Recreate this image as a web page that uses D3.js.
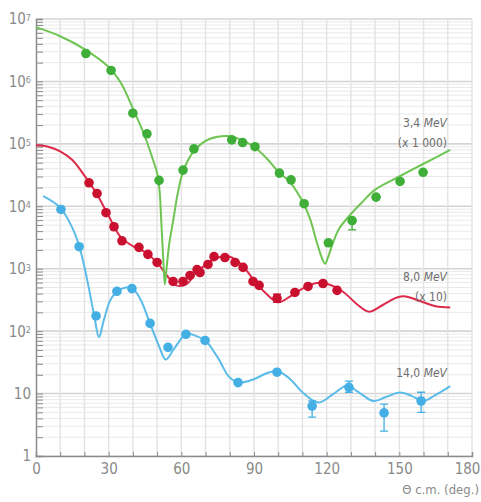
<!DOCTYPE html>
<html>
<head>
<meta charset="utf-8">
<script src="https://cdn.jsdelivr.net/npm/d3@7"></script>
<style>
  body { margin: 0; background: #fff; }
  svg { display: block; }
  text { font-family: "Liberation Sans Narrow", "DejaVu Sans Condensed", sans-serif; }
</style>
</head>
<body>
<div id="chart"></div>
<script>
// tick labels
const xTicks = [0, 30, 60, 90, 120, 150, 180];
const yDecades = [0, 1, 2, 3, 4, 5, 6, 7];

// 3,4 MeV (x 1 000) : [angle, value]
const curve34 = [[0,7.4e6],[10,5.3e6],[20,3.3e6],[30,1.7e6],[35,9.5e5],[40,3.7e5],[45,1.3e5],[48,6e4],[50,3.4e4],
  [51,1.8e4],[51.8,5e3],[52.5,1.5e3],[53.2,560],[54,1.1e3],[55,2.5e3],[56.7,6.1e3],[58.5,1.6e4],[60.7,3.6e4],
  [65,7.5e4],[70,1.12e5],[75,1.3e5],[80,1.33e5],[85,1.15e5],[90,9e4],[95,6e4],[100,3.6e4],[105,2.4e4],
  [110,1.2e4],[113,6.5e3],[116,2.6e3],[118,1.5e3],[119.3,1.2e3],[120.5,1.5e3],[122.6,2.6e3],[125,4.3e3],
  [131,8.3e3],[135,1.2e4],[140,1.85e4],[150,3e4],[160,4.8e4],[171,8e4]];
const points34 = [[20.6,2.8e6],[31,1.5e6],[40,3.1e5],[45.8,1.45e5],[50.8,2.6e4],[60.7,3.8e4],[65.2,8.3e4],
  [80.8,1.16e5],[85.3,1.05e5],[90.4,9e4],[100.5,3.4e4],[105.3,2.65e4],[110.7,1.1e4],[120.7,2.6e3],
  [130.5,5.9e3],[140.4,1.4e4],[150.3,2.5e4],[159.8,3.5e4]];
const errors34 = [[130.5,4.2e3,5.9e3]];

// 8,0 MeV (x 10)
const curve80 = [[0,9.5e4],[5,9e4],[10,7.6e4],[15,5.5e4],[20,3.1e4],[25,1.6e4],[30,7e3],[35,3.2e3],[40,2.3e3],
  [45,1.85e3],[50,1.25e3],[55,700],[58,540],[62,560],[66,850],[70,1.15e3],[75,1.5e3],[80,1.55e3],[85,1.15e3],
  [90,650],[95,400],[100,290],[105,360],[110,480],[116,590],[121,560],[127,420],[133,260],[137.5,205],
  [143,260],[149,345],[152.5,360],[158,310],[165,250],[171,240]];
const points80 = [[21.9,2.38e4],[25.2,1.6e4],[28.9,7.9e3],[32.2,4.7e3],[35.5,2.8e3],[42.5,2.2e3],[46.2,1.7e3],
  [50,1.26e3],[56.6,625],[60.7,625],[63.6,780],[66.5,970],[67.7,870],[71,1170],[73.5,1560],[78,1510],
  [82.2,1260],[85.5,1050],[89.6,625],[92.1,540],[99.5,335],[106.9,417],[112.3,520],[118.5,580],[124.3,450]];
const errors80 = [[99.5,290,390]];

// 14,0 MeV
const curve140 = [[3,1.45e4],[10,9.5e3],[15,4.5e3],[18,2.2e3],[21,700],[24,180],[26,80],[28,150],[31,330],
  [35,470],[39.6,490],[43,330],[47,135],[51,55],[53.5,35],[57,52],[62,90],[66,84],[70,70],[75,38],[80,18],
  [84,15],[90,17],[95,21],[99.6,23],[105,17],[110,10.5],[116.6,7.2],[123,10],[128.3,13.3],[134,10],
  [139.3,7.6],[145,9],[150.3,10.4],[155,9.2],[159.9,7.6],[165,9.5],[171,13.2]];
const points140 = [[10.3,8.9e3],[17.8,2.25e3],[24.8,175],[33.4,435],[39.6,480],[47.1,133],[54.5,55],[61.9,89],
  [69.8,71],[83.4,15],[99.5,22],[114,6.3],[129.2,12.6],[143.7,4.9],[159,7.6]];
const errors140 = [[114,4.2,7.6],[129.2,10.5,15.8],[143.7,2.5,6.8],[159,5,10.5]];

const width = 481, height = 502;
const x = d3.scaleLinear().domain([0, 180]).range([36, 472]);
const y = d3.scaleLog().domain([1, 1e7]).range([456, 19]);

const svg = d3.select("#chart").append("svg")
  .attr("width", width)
  .attr("height", height);

// minor values for grid / ticks
const minorVals = [];
yDecades.forEach(e => {
  for (let m = 1; m <= 9; m++) {
    const v = m * Math.pow(10, e);
    if (v <= 1e7) minorVals.push(v);
  }
});

// grid
const grid = svg.append("g");
grid.selectAll(".hg").data(minorVals).enter().append("line")
  .attr("x1", x(0)).attr("x2", x(180))
  .attr("y1", d => y(d)).attr("y2", d => y(d))
  .attr("stroke", d => Number.isInteger(Math.log10(d)) && d > 1 ? "#d4d4d4" : "#e9e9e9")
  .attr("stroke-width", d => Number.isInteger(Math.log10(d)) ? 1.6 : 1);
grid.selectAll(".vg").data(d3.range(10, 181, 10)).enter().append("line")
  .attr("x1", d => x(d)).attr("x2", d => x(d))
  .attr("y1", y(1)).attr("y2", y(1e7))
  .attr("stroke", "#e3e3e3")
  .attr("stroke-width", 1.4);

// axes
const xAxis = d3.axisBottom(x)
  .tickValues(d3.range(0, 181, 10))
  .tickSize(-4)
  .tickPadding(7)
  .tickFormat(d => xTicks.includes(d) ? d : "");
svg.append("g")
  .attr("transform", `translate(0,${y(1)})`)
  .call(xAxis)
  .call(g => g.select(".domain").attr("stroke", "#8c8c8c").attr("stroke-width", 1.5))
  .call(g => g.selectAll(".tick line").attr("stroke", "#8c8c8c"))
  .call(g => g.selectAll("text").attr("fill", "#8a8a8a").attr("font-size", 15)
    .attr("font-family", "'Liberation Sans Narrow', 'DejaVu Sans Condensed', sans-serif"))
  .call(g => g.selectAll(".tick text").filter(d => d === 180).attr("dx", -5));

const yAxis = d3.axisLeft(y)
  .tickValues(minorVals)
  .tickSize(-7)
  .tickPadding(5)
  .tickFormat("");
svg.append("g")
  .attr("transform", `translate(${x(0)},0)`)
  .call(yAxis)
  .call(g => g.select(".domain").attr("stroke", "#8c8c8c").attr("stroke-width", 1.5))
  .call(g => g.selectAll(".tick line").attr("stroke", "#8c8c8c"));

// y decade labels with superscripts
yDecades.forEach(e => {
  const t = svg.append("text")
    .attr("x", 31)
    .attr("y", y(Math.pow(10, e)))
    .attr("dy", "0.36em")
    .attr("text-anchor", "end")
    .attr("fill", "#8a8a8a")
    .attr("font-size", 15);
  if (e === 0) t.text("1");
  else if (e === 1) t.text("10");
  else {
    t.append("tspan").text("10");
    t.append("tspan").attr("dy", "-0.4em").attr("font-size", 9).text(e);
  }
});

svg.append("text")
  .attr("x", 479).attr("y", 494)
  .attr("text-anchor", "end")
  .attr("fill", "#8a8a8a")
  .attr("font-size", 13)
  .text("Θ c.m. (deg.)");

// series
const line = d3.line()
  .x(d => x(d[0]))
  .y(d => y(d[1]))
  .curve(d3.curveCatmullRom.alpha(0.5));

function drawSeries(curve, pts, errs, lineColor, dotColor) {
  const g = svg.append("g");
  g.append("path")
    .datum(curve)
    .attr("d", line)
    .attr("fill", "none")
    .attr("stroke", lineColor)
    .attr("stroke-width", 2);
  g.selectAll(".err").data(errs).enter().append("path")
    .attr("d", d => `M${x(d[0])},${y(d[1])}V${y(d[2])}M${x(d[0]) - 4},${y(d[1])}h8M${x(d[0]) - 4},${y(d[2])}h8`)
    .attr("stroke", dotColor)
    .attr("stroke-width", 1.3)
    .attr("fill", "none");
  g.selectAll("circle").data(pts).enter().append("circle")
    .attr("cx", d => x(d[0]))
    .attr("cy", d => y(d[1]))
    .attr("r", 4.8)
    .attr("fill", dotColor);
}

drawSeries(curve140, points140, errors140, "#5bbbe9", "#43afe4");
drawSeries(curve80, points80, errors80, "#dc2b4a", "#c9102f");
drawSeries(curve34, points34, errors34, "#6ec553", "#3fae39");

// series labels
function label(lines, yBase) {
  lines.forEach((l, i) => {
    const t = svg.append("text")
      .attr("x", 447)
      .attr("y", yBase + i * 20)
      .attr("text-anchor", "end")
      .attr("fill", "#6e6e6e")
      .attr("font-size", 12);
    t.append("tspan").text(l[0]);
    if (l[1]) t.append("tspan").attr("font-style", "italic").text(l[1]);
  });
}
label([["3,4 ", "MeV"], ["(x 1 000)"]], 127);
label([["8,0 ", "MeV"], ["(x 10)"]], 281);
label([["14,0 ", "MeV"]], 377);
</script>
</body>
</html>
